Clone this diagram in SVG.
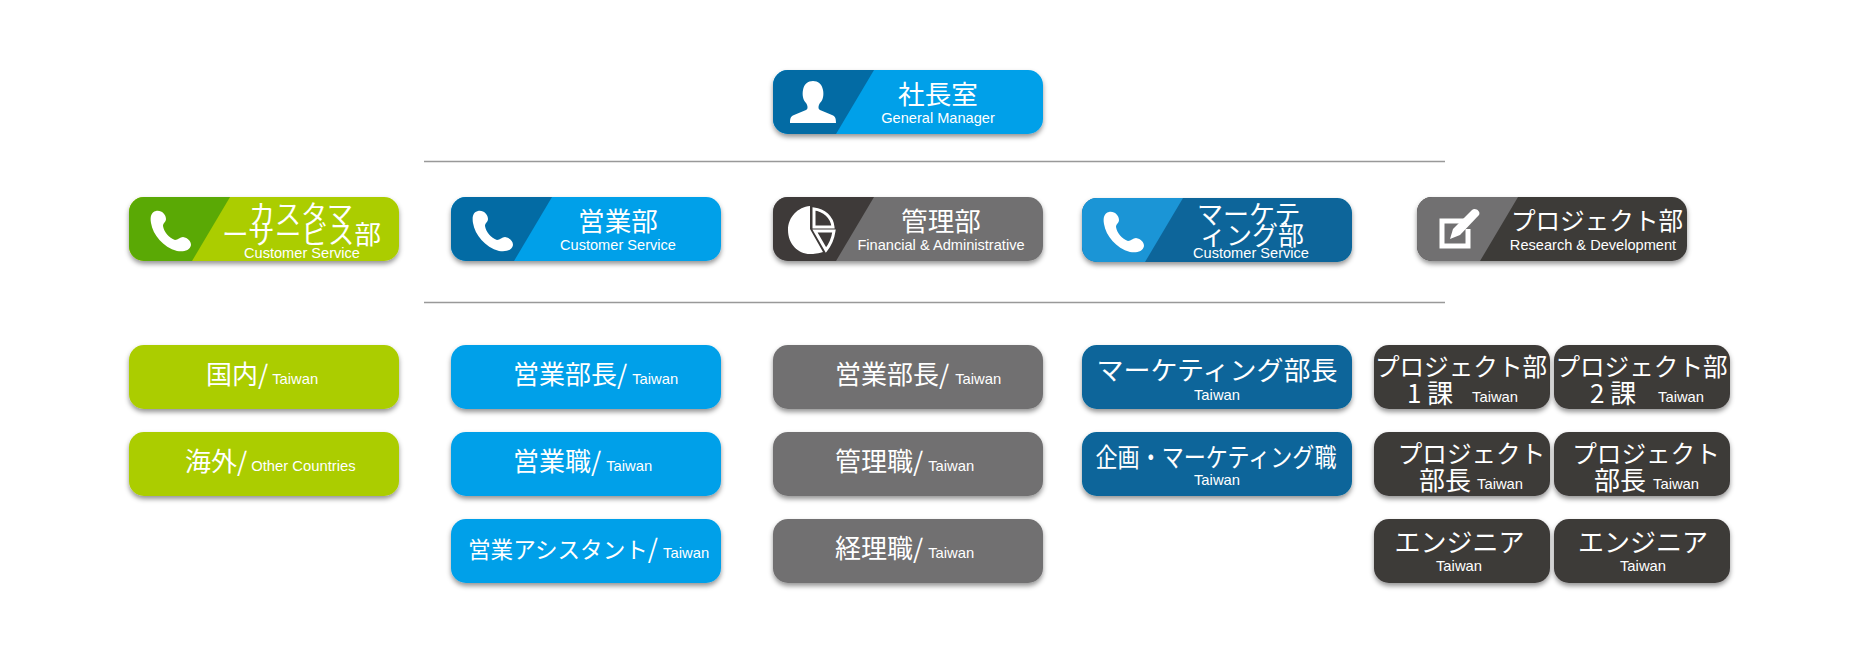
<svg xmlns="http://www.w3.org/2000/svg" width="1876" height="661" viewBox="0 0 1876 661">
<style>
text{fill:#fff}
.j{font-family:"Noto Sans CJK JP","Noto Sans",sans-serif;font-size:26px}
.h{font-size:26.6px}
.p{font-size:24.6px}
.e{font-family:"Liberation Sans",Arial,sans-serif;font-size:14.6px}
.t{font-family:"Liberation Sans",Arial,sans-serif;font-size:14.8px}
.m{text-anchor:middle}
.ln{stroke:#999;stroke-width:1.5;fill:none}
.b{filter:url(#sh)}
.ic{fill:#fff}
</style>
<defs>
<filter id="sh" x="-10%" y="-20%" width="120%" height="150%"><feDropShadow dx="0" dy="3" stdDeviation="2.5" flood-color="#000" flood-opacity=".42"/></filter>
<rect id="w" width="270" height="64" rx="15"/>
<rect id="s" width="176" height="64" rx="15"/>
<path id="lf" d="M15 0H101L63 64H15A15 15 0 0 1 0 49V15A15 15 0 0 1 15 0Z"/>
<path id="ph" d="M-15-20C-20-19-21-14-20-8C-18 4-8 16 6 20C12 21 19 20 20 14C20 10 17 7 12 6C9 6 7 9 4 9C-2 7-7 1-8-5C-8-8-5-9-5-12C-5-16-9-21-15-20Z"/>
</defs>
<g id="connectors">
<line class="ln" x1="424" y1="161.5" x2="1445" y2="161.5"/>
<line class="ln" x1="424" y1="302.5" x2="1445" y2="302.5"/>
</g>
<g id="n-president">
<use class="b" href="#w" x="773" y="70" fill="#00a0e9"/><use href="#lf" x="773" y="70" fill="#036ba4"/>
<path class="ic" d="M790 123C790 118 791 116 794 115L806 110C808 109 808 106 806 103C803 100 802 95 803 90C804 84 808 81 813 81C818 81 822 84 823 90C824 95 823 100 820 103C818 106 818 109 820 110L832 115C835 116 836 118 836 123Z"/>
<text class="j h m" x="938" y="104">社長室</text><text class="e m" x="938" y="123">General Manager</text>
</g>
<g id="n-cs">
<use class="b" href="#w" x="129" y="197" fill="#abcd03"/><use href="#lf" x="129" y="197" fill="#5aa905"/>
<use class="ic" href="#ph" x="171" y="231"/>
<text class="j" x="249" y="224">カスタマ</text><text class="j h" x="222" y="244">ーサービス部</text>
<text class="e m" x="302" y="258">Customer Service</text>
</g>
<g id="n-sales">
<use class="b" href="#w" x="451" y="197" fill="#00a0e9"/><use href="#lf" x="451" y="197" fill="#036ba4"/>
<use class="ic" href="#ph" x="493" y="231"/>
<text class="j h m" x="618" y="231">営業部</text><text class="e m" x="618" y="250">Customer Service</text>
</g>
<g id="n-admin">
<use class="b" href="#w" x="773" y="197" fill="#717071"/><use href="#lf" x="773" y="197" fill="#3e3a39"/>
<path class="ic" d="M810 206V229L823 252C816 254 812 254 810 254C798 254 788 244 788 230C788 217 798 207 810 206Z"/>
<path d="M814 209V227H833C832 217 824 210 814 209Z" fill="none" stroke="#fff" stroke-width="3"/>
<path d="M815 231H834C833 238 830 245 826 250Z" fill="none" stroke="#fff" stroke-width="3"/>
<text class="j h m" x="941" y="231">管理部</text><text class="e m" x="941" y="250">Financial &amp; Administrative</text>
</g>
<g id="n-marketing">
<use class="b" href="#w" x="1082" y="198" fill="#07659a"/><use href="#lf" x="1082" y="198" fill="#1b95d6"/>
<use class="ic" href="#ph" x="1124" y="232"/>
<text class="j" x="1197" y="224">マーケテ</text><text class="j" x="1200" y="245">ィング部</text>
<text class="e m" x="1251" y="258">Customer Service</text>
</g>
<g id="n-project">
<use class="b" href="#w" x="1417" y="197" fill="#3e3a39"/><use href="#lf" x="1417" y="197" fill="#717071"/>
<path d="M1470 221H1442V246H1468V229" fill="none" stroke="#fff" stroke-width="5"/>
<path class="ic" d="M1450 239L1453 229L1472 210C1475 207 1481 211 1479 215L1460 235Z"/>
<text class="j p m" x="1597" y="230">プロジェクト部</text><text class="e m" x="1593" y="250">Research &amp; Development</text>
</g>
<g id="n-domestic"><use class="b" href="#w" x="129" y="345" fill="#abcd03"/><text class="j" x="206" y="384">国内/<tspan class="t" dx="4">Taiwan</tspan></text></g>
<g id="n-overseas"><use class="b" href="#w" x="129" y="432" fill="#abcd03"/><text class="j" x="185" y="471">海外/<tspan class="t" dx="4">Other Countries</tspan></text></g>
<g id="n-sales-mgr"><use class="b" href="#w" x="451" y="345" fill="#00a0e9"/><text class="j" x="513" y="384">営業部長/<tspan class="t" dx="5">Taiwan</tspan></text></g>
<g id="n-sales-staff"><use class="b" href="#w" x="451" y="432" fill="#00a0e9"/><text class="j" x="513" y="471">営業職/<tspan class="t" dx="5">Taiwan</tspan></text></g>
<g id="n-sales-asst"><use class="b" href="#w" x="451" y="519" fill="#00a0e9"/><text class="j" x="468" y="558"><tspan font-size="22.6">営業アシスタント</tspan>/<tspan class="t" dx="5">Taiwan</tspan></text></g>
<g id="n-admin-mgr"><use class="b" href="#w" x="773" y="345" fill="#717071"/><text class="j" x="835" y="384">営業部長/<tspan class="t" dx="6">Taiwan</tspan></text></g>
<g id="n-admin-staff"><use class="b" href="#w" x="773" y="432" fill="#717071"/><text class="j" x="835" y="471">管理職/<tspan class="t" dx="5">Taiwan</tspan></text></g>
<g id="n-accounting"><use class="b" href="#w" x="773" y="519" fill="#717071"/><text class="j" x="835" y="558">経理職/<tspan class="t" dx="5">Taiwan</tspan></text></g>
<g id="n-mkt-mgr"><use class="b" href="#w" x="1082" y="345" fill="#07659a"/><text class="j m" x="1217" y="380" textLength="241" lengthAdjust="spacingAndGlyphs">マーケティング部長</text><text class="t m" x="1217" y="400">Taiwan</text></g>
<g id="n-mkt-staff"><use class="b" href="#w" x="1082" y="432" fill="#07659a"/><text class="j m" x="1216" y="467" textLength="241" lengthAdjust="spacingAndGlyphs">企画・マーケティング職</text><text class="t m" x="1217" y="485">Taiwan</text></g>
<g id="n-p1"><use class="b" href="#s" x="1374" y="345" fill="#3e3a39"/><text class="j p m" x="1461" y="376">プロジェクト部</text><text class="j" x="1407" y="403">1 課</text><text class="t" x="1472" y="402">Taiwan</text></g>
<g id="n-p2"><use class="b" href="#s" x="1554" y="345" fill="#3e3a39"/><text class="j p m" x="1641.5" y="376">プロジェクト部</text><text class="j" x="1590" y="403">2 課</text><text class="t" x="1658" y="402">Taiwan</text></g>
<g id="n-p3"><use class="b" href="#s" x="1374" y="432" fill="#3e3a39"/><text class="j p m" x="1471.5" y="463">プロジェクト</text><text class="j" x="1419" y="490">部長</text><text class="t" x="1477" y="489">Taiwan</text></g>
<g id="n-p4"><use class="b" href="#s" x="1554" y="432" fill="#3e3a39"/><text class="j p m" x="1646" y="463">プロジェクト</text><text class="j" x="1594" y="490">部長</text><text class="t" x="1653" y="489">Taiwan</text></g>
<g id="n-p5"><use class="b" href="#s" x="1374" y="519" fill="#3e3a39"/><text class="j m" x="1459.5" y="552">エンジニア</text><text class="t m" x="1459" y="571">Taiwan</text></g>
<g id="n-p6"><use class="b" href="#s" x="1554" y="519" fill="#3e3a39"/><text class="j m" x="1643" y="552">エンジニア</text><text class="t m" x="1643" y="571">Taiwan</text></g>
</svg>
